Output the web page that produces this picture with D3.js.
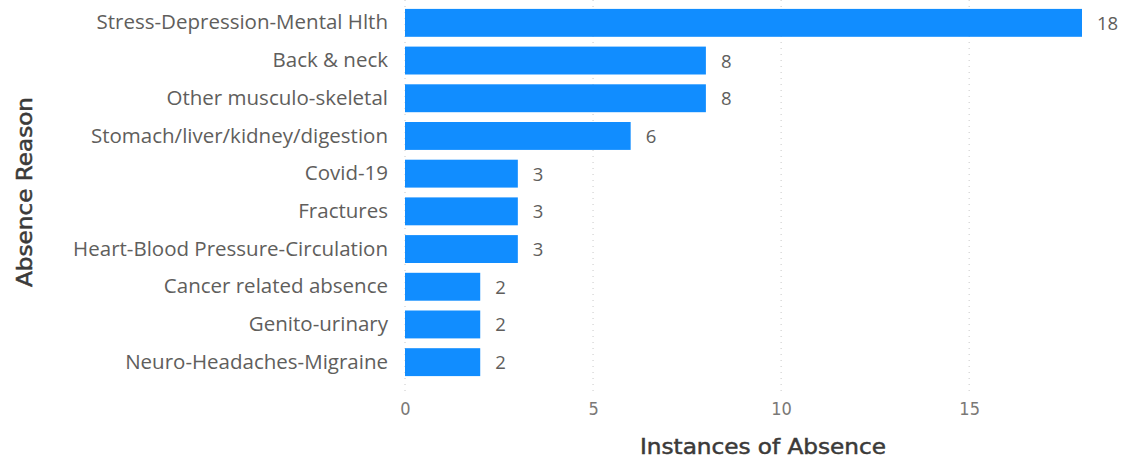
<!DOCTYPE html>
<html><head><meta charset="utf-8">
<script src="https://cdn.jsdelivr.net/npm/d3@7"></script>
<style>body{margin:0;background:#fff}svg{display:block}</style>
</head><body>
<svg id="c" width="1124" height="458"></svg>
<script>
const categories = ["Stress-Depression-Mental Hlth","Back & neck","Other musculo-skeletal","Stomach/liver/kidney/digestion","Covid-19","Fractures","Heart-Blood Pressure-Circulation","Cancer related absence","Genito-urinary","Neuro-Headaches-Migraine"];
const values = [18,8,8,6,3,3,3,2,2,2];
const xTicks = [0,5,10,15];

const svg = d3.select("#c");
const x = d3.scaleLinear().domain([0,18]).range([405,1082]);
const y = d3.scaleBand().domain(categories).range([4,381]).paddingInner(0.26).paddingOuter(0.13);

const font = "'Open Sans', 'Noto Sans', sans-serif";
const titleFont = "'DejaVu Sans', sans-serif";
// gridlines
svg.append("g").selectAll("line").data(xTicks).join("line")
  .attr("x1",d=>x(d)).attr("x2",d=>x(d)).attr("y1",0).attr("y2",395)
  .attr("stroke","#c8c8c8").attr("stroke-width",1).attr("stroke-dasharray","1,5");

svg.append("g").selectAll("rect").data(values).join("rect")
  .attr("x",x(0)).attr("y",(d,i)=>y(categories[i]))
  .attr("width",d=>x(d)-x(0)).attr("height",y.bandwidth())
  .attr("fill","#118DFF");

svg.append("g").selectAll("text").data(values).join("text")
  .attr("x",d=>x(d)+15).attr("y",(d,i)=>y(categories[i])+y.bandwidth()/2)
  .attr("dy","0.38em").attr("font-family",font).attr("font-size",18.5).attr("fill","#605E5C")
  .text(d=>d);

const yAxis = svg.append("g").attr("transform","translate(405,0)")
  .call(d3.axisLeft(y).tickSize(0).tickPadding(17));
yAxis.select(".domain").remove();
yAxis.selectAll("text").attr("font-family",font).attr("font-size",20.5).attr("fill","#605E5C");

const xAxis = svg.append("g").attr("transform","translate(0,400)")
  .call(d3.axisBottom(x).tickValues(xTicks).tickSize(0).tickPadding(2));
xAxis.select(".domain").remove();
xAxis.selectAll("text").attr("font-family","'DejaVu Sans Condensed', sans-serif").attr("font-size",18).attr("fill","#7a7876");

svg.append("text").attr("x",763).attr("y",454).attr("text-anchor","middle")
  .attr("font-family",titleFont).attr("font-size",21).attr("fill","#3b3a39")
  .attr("stroke","#3b3a39").attr("stroke-width",0.5)
  .attr("textLength",246).attr("lengthAdjust","spacingAndGlyphs")
  .text("Instances of Absence");
svg.append("text").attr("transform","translate(32,192) rotate(-90)").attr("text-anchor","middle")
  .attr("font-family",titleFont).attr("font-size",21).attr("fill","#3b3a39")
  .attr("stroke","#3b3a39").attr("stroke-width",0.5)
  .attr("textLength",190).attr("lengthAdjust","spacingAndGlyphs")
  .text("Absence Reason");
</script>
</body></html>
